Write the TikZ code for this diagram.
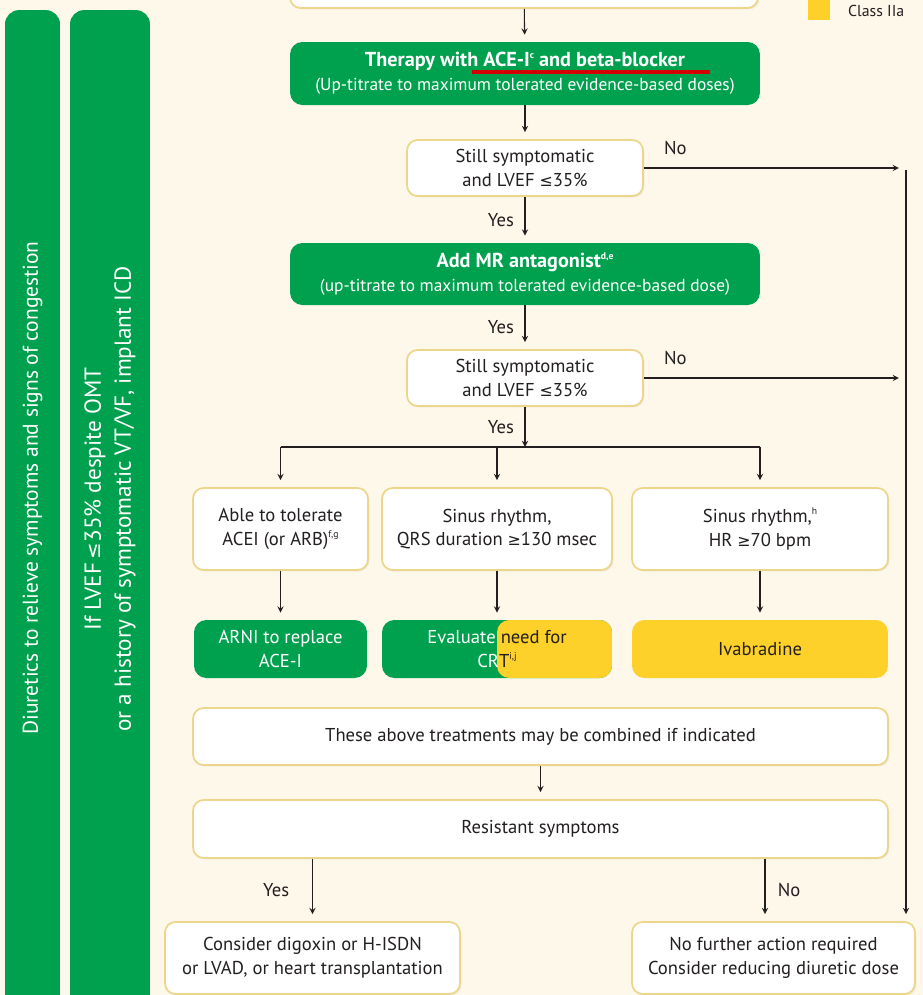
\documentclass[tikz,border=0pt]{standalone}
\usepackage{fontspec}
\setmainfont{PT Sans}
\newfontfamily\symfont{DejaVu Sans}
\usetikzlibrary{shadows}
\definecolor{escgreen}{HTML}{00A14E}
\definecolor{escyellow}{HTML}{FDD02A}
\definecolor{escedge}{HTML}{EDD68A}
\definecolor{escbg}{HTML}{FDF8EA}
\definecolor{escink}{HTML}{231F20}
\definecolor{escred}{HTML}{D40000}
\newcommand{\lesym}{{\symfont\scalebox{0.85}{≤}}}
\newcommand{\gesym}{{\symfont\scalebox{0.85}{≥}}}
\newcommand{\sups}[1]{\raisebox{0.8ex}{\fontsize{5.5}{6}\selectfont #1}}

\begin{document}
\begin{tikzpicture}[x=0.02cm, y=-0.02cm, >=stealth, font=\fontsize{10.6}{13.5}\selectfont, text=escink]
        \tikzstyle{greenbox}=[fill=escgreen, rounded corners=7pt, text=white, align=center, inner sep=0pt];
        \tikzstyle{yellowbox}=[fill=escyellow, rounded corners=7pt, align=center, inner sep=0pt];
        \tikzstyle{whitebox}=[draw=escedge, line width=1pt, fill=white, rounded corners=6pt, align=center, inner sep=0pt, drop shadow={opacity=0.12, shadow xshift=0.8pt, shadow yshift=-0.8pt}];
        \tikzstyle{bar}=[fill=escgreen, rounded corners=8pt, inner sep=0pt];
        \tikzstyle{flow}=[->, draw=escink, line width=0.6pt, shorten >=4pt];
        \tikzstyle{rail}=[draw=escink, line width=0.6pt];
        \tikzstyle{tag}=[inner sep=1pt];

        \useasboundingbox[fill=escbg] (0,0) rectangle (923,995);

        % side bars
        \node[bar, minimum width=1.1cm, minimum height=20.4cm] (diurbar) at (32.5,520) {};
        \node[bar, minimum width=1.6cm, minimum height=20.4cm] (icdbar) at (110,520) {};
        \node[rotate=90, text=white, font=\fontsize{12.2}{17}\selectfont] (diurtext) at (32.5,488) {Diuretics to relieve symptoms and signs of congestion};
        \node[rotate=90, text=white, align=center, font=\fontsize{13.2}{17}\selectfont] (icdtext) at (110,499) {If LVEF\,\lesym35\% despite OMT\\or a history of symptomatic VT/VF, implant ICD};

        % legend and the box above
        \node[whitebox, minimum width=9.36cm, minimum height=1.2cm] (prev) at (524,-22) {};
        \node[fill=escyellow, minimum size=0.44cm, inner sep=0pt] (legsq) at (819,9) {};
        \node[anchor=west, font=\fontsize{9}{11}\selectfont] (legtxt) at (842,11) {Class IIa};

        % main column
        \node[greenbox, minimum width=9.4cm, minimum height=1.26cm] (acei) at (525,73.5) {{\fontsize{11.5}{13.5}\selectfont\textbf{Therapy with ACE-I\sups{c} and beta-blocker}}\\{\fontsize{9.9}{12}\selectfont(Up-titrate to maximum tolerated evidence-based doses)}};
        \draw[escred, line width=2.3pt] (472,72) -- (710,72);
        \node[whitebox, minimum width=4.72cm, minimum height=1.12cm] (dec1) at (525,168) {Still symptomatic\\and LVEF \lesym35\%};
        \node[greenbox, minimum width=9.4cm, minimum height=1.24cm] (mra) at (525,274) {{\fontsize{11.5}{13.5}\selectfont\textbf{Add MR antagonist\sups{d,e}}}\\{\fontsize{9.9}{12}\selectfont(up-titrate to maximum tolerated evidence-based dose)}};
        \node[whitebox, minimum width=4.72cm, minimum height=1.12cm] (dec2) at (525,378) {Still symptomatic\\and LVEF \lesym35\%};

        % three branches
        \node[whitebox, minimum width=3.5cm, minimum height=1.64cm] (tolerate) at (280.5,529) {Able to tolerate\\ACEI (or ARB)\sups{f,g}};
        \node[whitebox, minimum width=4.6cm, minimum height=1.64cm] (qrs) at (497,529) {Sinus rhythm,\\QRS duration \gesym130 msec};
        \node[whitebox, minimum width=5.12cm, minimum height=1.64cm] (heartrate) at (760,529) {Sinus rhythm,\sups{h}\\HR \gesym70 bpm};
        \node[greenbox, minimum width=3.46cm, minimum height=1.16cm] (arni) at (280.5,649) {ARNI to replace\\ACE-I};
        \node[greenbox, minimum width=4.6cm, minimum height=1.16cm, text=escink, path picture={\fill[escyellow] (path picture bounding box.north) rectangle (path picture bounding box.south east);}] (crt) at (497,649) {{\color{white}Evaluate} need for\\{\color{white}CR}T\sups{i,j}};
        \node[yellowbox, minimum width=5.12cm, minimum height=1.16cm] (ivab) at (760,649) {Ivabradine};

        \node[whitebox, minimum width=13.9cm, minimum height=1.14cm] (combine) at (540.5,736.5) {These above treatments may be combined if indicated};
        \node[whitebox, minimum width=13.9cm, minimum height=1.16cm] (resist) at (540.5,829) {Resistant symptoms};
        \node[whitebox, minimum width=5.9cm, minimum height=1.44cm] (digoxin) at (312.5,958) {Consider digoxin or H-ISDN\\or LVAD, or heart transplantation};
        \node[whitebox, minimum width=5.66cm, minimum height=1.44cm] (nofurther) at (773.5,958) {No further action required\\Consider reducing diuretic dose};

        \coordinate (split) at (525,447);
        \coordinate (rail) at (906,170);
        \coordinate (nofork) at (765,0);

        % connectors
        \draw[flow] (prev) -- (acei);
        \draw[flow] (acei) -- (dec1);
        \draw[flow] (dec1) -- node[tag, left=5pt] (yes1) {Yes} (mra);
        \draw[flow] (mra) -- node[tag, left=5pt] (yes2) {Yes} (dec2);
        \draw[flow, shorten >=0pt] (dec2) -- node[tag, left=5pt] (yes3) {Yes} (split);
        \draw[rail] (tolerate.north |- split) -- (heartrate.north |- split);
        \draw[flow] (tolerate.north |- split) -- (tolerate);
        \draw[flow] (qrs.north |- split) -- (qrs);
        \draw[flow] (heartrate.north |- split) -- (heartrate);
        \draw[flow] (tolerate) -- (arni);
        \draw[flow] (qrs) -- (crt);
        \draw[flow] (heartrate) -- (ivab);
        \draw[flow] (combine) -- (resist);
        \draw[flow] (resist.south -| digoxin.north) -- node[tag, left=12pt] (yes4) {Yes} (digoxin.north);
        \draw[flow] (resist.south -| nofork) -- node[tag, right=6pt] (no3) {No} (nofurther.north -| nofork);
        \draw[flow] (dec1.east) -- node[tag, pos=0.12, above=6pt] (no1) {No} (rail |- dec1.east);
        \draw[flow] (dec2.east) -- node[tag, pos=0.12, above=6pt] (no2) {No} (rail |- dec2.east);
        \draw[flow] (rail) -- (rail |- nofurther.north);
    \end{tikzpicture}
\end{document}
